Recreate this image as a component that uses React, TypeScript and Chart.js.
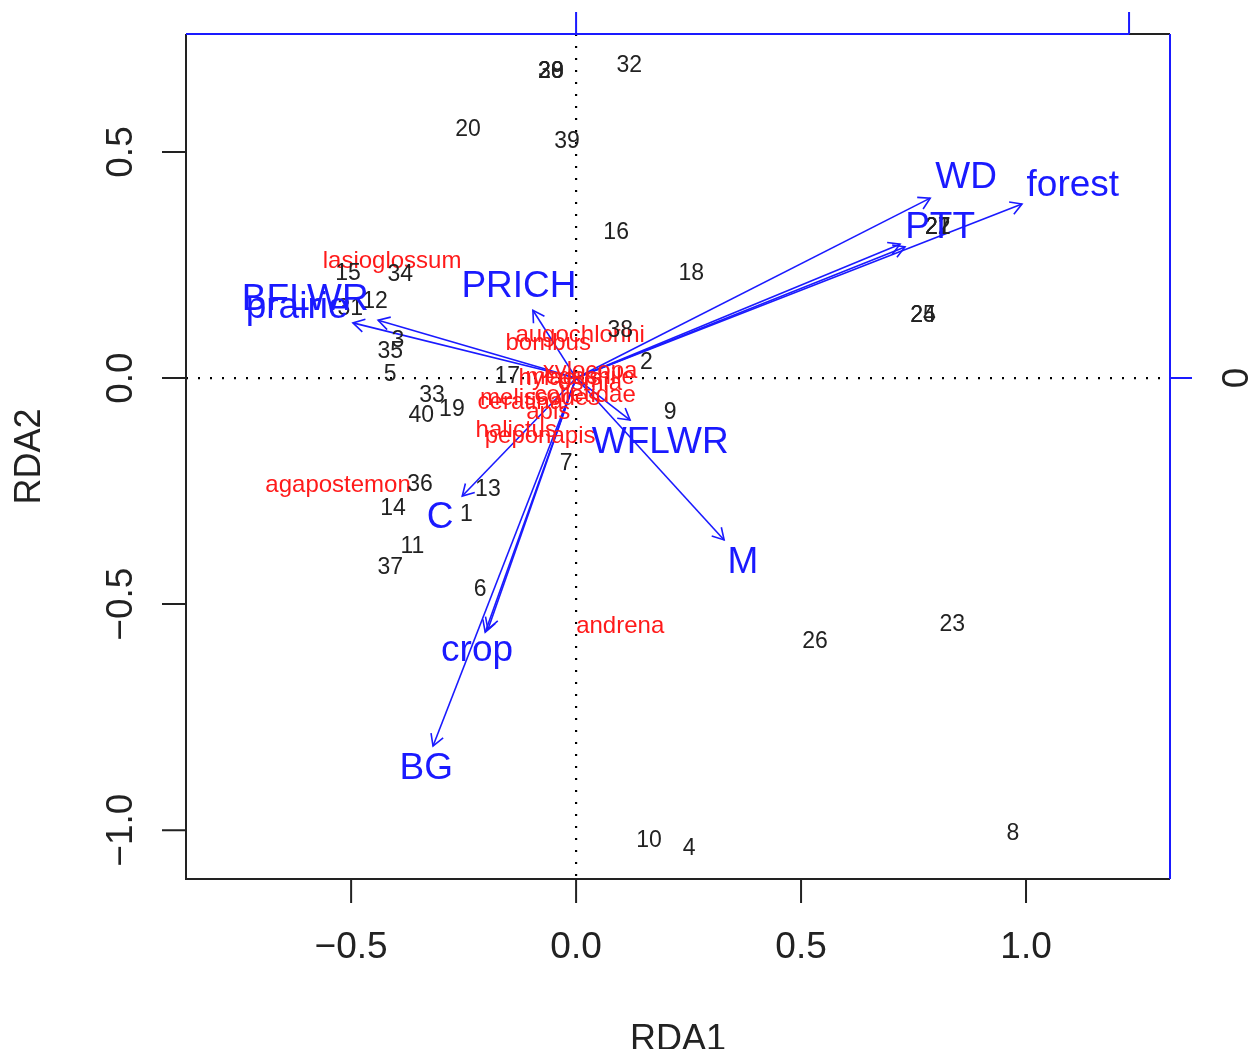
import React, { useEffect, useRef } from "react";
import { Chart, registerables } from "chart.js";

Chart.register(...registerables);

// Site scores (black numbers)
const siteLabels = ["28","29","30","32","20","39","16","18","21","22","27","24","25","15","34","12","31","3","35","5","33","19","40","17","38","2","9","7","36","13","14","1","11","37","6","26","23","10","4","8"];
const siteX = [-0.056,-0.056,-0.056,0.118,-0.24,-0.02,0.089,0.256,0.804,0.804,0.804,0.771,0.771,-0.507,-0.391,-0.447,-0.502,-0.396,-0.413,-0.413,-0.32,-0.276,-0.344,-0.153,0.098,0.156,0.209,-0.022,-0.347,-0.196,-0.407,-0.244,-0.364,-0.413,-0.213,0.531,0.836,0.162,0.251,0.971];
const siteY = [0.677,0.677,0.677,0.692,0.549,0.522,0.321,0.232,0.332,0.332,0.332,0.139,0.139,0.232,0.228,0.17,0.153,0.082,0.058,0.007,-0.038,-0.069,-0.084,0.002,0.104,0.035,-0.077,-0.19,-0.235,-0.246,-0.288,-0.303,-0.372,-0.42,-0.467,-0.582,-0.546,-1.024,-1.04,-1.007];

// Species scores (red names)
const speciesLabels = ["lasioglossum","agapostemon","andrena","augochlorini","bombus","halictus","peponapis","apis","ceratina","melissodes","xylocopa","hylaeus","osmia","megachile","colletidae"];
const speciesX = [-0.409,-0.529,0.098,0.009,-0.062,-0.133,-0.08,-0.062,-0.124,-0.08,0.031,-0.036,0.031,0.009,0.02];
const speciesY = [0.257,-0.237,-0.549,0.095,0.077,-0.115,-0.13,-0.077,-0.053,-0.044,0.015,0.0,-0.011,0.002,-0.038];

// Environmental arrows (blue)
const arrowLabels = ["WD","forest","PTT","","PRICH","BFLWR","prairie","WFLWR","M","C","crop","","BG"];
const arrowX = [0.787,0.991,0.72,0.731,-0.096,-0.44,-0.496,0.12,0.329,-0.253,-0.202,-0.196,-0.318];
const arrowY = [0.398,0.385,0.296,0.29,0.15,0.128,0.122,-0.093,-0.358,-0.261,-0.562,-0.556,-0.814];
const arrowLabelX = [0.867,1.104,0.809,0.809,-0.127,-0.602,-0.62,0.187,0.371,-0.302,-0.22,-0.22,-0.333];
const arrowLabelY = [0.442,0.425,0.332,0.332,0.201,0.173,0.155,-0.144,-0.409,-0.31,-0.604,-0.604,-0.865];

// Axes
const xTicks = [-0.5, 0, 0.5, 1.0];
const xTickLabels = ["\u22120.5", "0.0", "0.5", "1.0"];
const yTicks = [0.5, 0, -0.5, -1.0];
const yTickLabels = ["0.5", "0.0", "\u22120.5", "\u22121.0"];
const topTicks = [0, 1.229];
const rightTicks = [0];
const rightTickLabels = ["0"];
const xTitle = "RDA1";
const yTitle = "RDA2";
const xMin = -0.867, xMax = 1.32, yMin = -1.108, yMax = 0.761;

const FONT = "'Liberation Sans', Arial, Helvetica, sans-serif";
const BLUE = "#1a1aff";
const RED = "#ff1a1a";

export default function App() {
  const ref = useRef<HTMLCanvasElement | null>(null);

  useEffect(() => {
    if (!ref.current) return;

    const biplotPlugin = {
      id: "biplot",
      beforeDatasetsDraw(chart: any) {
        const { ctx, chartArea: a, scales } = chart;
        const xs = scales.x, ys = scales.y;
        ctx.save();
        ctx.strokeStyle = "#000";
        ctx.lineWidth = 2.2;
        ctx.setLineDash([2, 10]);
        const x0 = xs.getPixelForValue(0), y0 = ys.getPixelForValue(0);
        ctx.beginPath();
        ctx.moveTo(x0, a.top); ctx.lineTo(x0, a.bottom);
        ctx.moveTo(a.left, y0); ctx.lineTo(a.right, y0);
        ctx.stroke();
        ctx.restore();
      },
      afterDatasetsDraw(chart: any) {
        const { ctx, chartArea: a, scales } = chart;
        const xs = scales.x, ys = scales.y;
        ctx.save();
        // arrow heads
        ctx.strokeStyle = BLUE;
        ctx.lineWidth = 1.6;
        const ox = xs.getPixelForValue(0), oy = ys.getPixelForValue(0);
        arrowX.forEach((v, i) => {
          const hx = xs.getPixelForValue(v), hy = ys.getPixelForValue(arrowY[i]);
          const ang = Math.atan2(hy - oy, hx - ox);
          const L = 13, sp = Math.PI / 6;
          ctx.beginPath();
          ctx.moveTo(hx - L * Math.cos(ang - sp), hy - L * Math.sin(ang - sp));
          ctx.lineTo(hx, hy);
          ctx.lineTo(hx - L * Math.cos(ang + sp), hy - L * Math.sin(ang + sp));
          ctx.stroke();
        });
        ctx.textAlign = "center";
        ctx.textBaseline = "middle";
        // species
        ctx.fillStyle = RED;
        ctx.font = `24px ${FONT}`;
        speciesLabels.forEach((s, i) => {
          ctx.fillText(s, xs.getPixelForValue(speciesX[i]), ys.getPixelForValue(speciesY[i]));
        });
        // sites
        ctx.fillStyle = "#222";
        ctx.font = `23px ${FONT}`;
        siteLabels.forEach((s, i) => {
          ctx.fillText(s, xs.getPixelForValue(siteX[i]), ys.getPixelForValue(siteY[i]));
        });
        // arrow labels
        ctx.fillStyle = BLUE;
        ctx.font = `37px ${FONT}`;
        arrowLabels.forEach((s, i) => {
          if (!s) return;
          ctx.fillText(s, xs.getPixelForValue(arrowLabelX[i]), ys.getPixelForValue(arrowLabelY[i]));
        });

        // frame
        ctx.lineWidth = 2;
        ctx.strokeStyle = "#222";
        ctx.beginPath();
        ctx.moveTo(a.left, a.top); ctx.lineTo(a.left, a.bottom); ctx.lineTo(a.right, a.bottom);
        ctx.stroke();
        const tEnd = xs.getPixelForValue(topTicks[topTicks.length - 1]);
        ctx.beginPath();
        ctx.moveTo(tEnd, a.top); ctx.lineTo(a.right, a.top);
        ctx.stroke();
        ctx.strokeStyle = BLUE;
        ctx.beginPath();
        ctx.moveTo(a.left, a.top); ctx.lineTo(tEnd, a.top);
        ctx.moveTo(a.right, a.top); ctx.lineTo(a.right, a.bottom);
        ctx.stroke();
        // blue top / right ticks
        ctx.beginPath();
        topTicks.forEach((t) => {
          const px = xs.getPixelForValue(t);
          ctx.moveTo(px, a.top); ctx.lineTo(px, a.top - 22);
        });
        rightTicks.forEach((t) => {
          const py = ys.getPixelForValue(t);
          ctx.moveTo(a.right, py); ctx.lineTo(a.right + 22, py);
        });
        ctx.stroke();
        // black bottom / left ticks
        ctx.strokeStyle = "#222";
        ctx.beginPath();
        xTicks.forEach((t) => {
          const px = xs.getPixelForValue(t);
          ctx.moveTo(px, a.bottom); ctx.lineTo(px, a.bottom + 24);
        });
        yTicks.forEach((t) => {
          const py = ys.getPixelForValue(t);
          ctx.moveTo(a.left, py); ctx.lineTo(a.left - 24, py);
        });
        ctx.stroke();

        // tick labels
        ctx.fillStyle = "#222";
        ctx.font = `37px ${FONT}`;
        xTicks.forEach((t, i) => {
          ctx.fillText(xTickLabels[i], xs.getPixelForValue(t), a.bottom + 69);
        });
        yTicks.forEach((t, i) => {
          ctx.save();
          ctx.translate(a.left - 64, ys.getPixelForValue(t));
          ctx.rotate(-Math.PI / 2);
          ctx.fillText(yTickLabels[i], 0, 0);
          ctx.restore();
        });
        rightTicks.forEach((t, i) => {
          ctx.save();
          ctx.translate(a.right + 68, ys.getPixelForValue(t));
          ctx.rotate(-Math.PI / 2);
          ctx.fillText(rightTickLabels[i], 0, 0);
          ctx.restore();
        });
        // titles
        ctx.font = `36px ${FONT}`;
        ctx.fillText(xTitle, (a.left + a.right) / 2, a.bottom + 161);
        ctx.save();
        ctx.translate(a.left - 156, (a.top + a.bottom) / 2);
        ctx.rotate(-Math.PI / 2);
        ctx.fillText(yTitle, 0, 0);
        ctx.restore();
        ctx.restore();
      },
    };

    const datasets: any[] = arrowX.map((v, i) => ({
      label: arrowLabels[i] || "arrow",
      data: [{ x: 0, y: 0 }, { x: v, y: arrowY[i] }],
      showLine: true,
      borderColor: BLUE,
      borderWidth: 1.6,
      pointRadius: 0,
      fill: false,
    }));

    const chart = new Chart(ref.current, {
      type: "scatter",
      data: { datasets },
      options: {
        animation: false,
        responsive: false,
        devicePixelRatio: 1,
        layout: { padding: { left: 178, top: 26, right: 82, bottom: 170 } },
        plugins: { legend: { display: false }, tooltip: { enabled: false }, title: { display: false } },
        scales: {
          x: { type: "linear", min: xMin, max: xMax, display: false },
          y: { type: "linear", min: yMin, max: yMax, display: false },
        },
      },
      plugins: [biplotPlugin],
    });
    return () => chart.destroy();
  }, []);

  return (
    <div style={{ width: 1244, height: 1041 }}>
      <canvas ref={ref} width={1244} height={1041} style={{ display: "block", width: 1244, height: 1041 }} />
    </div>
  );
}
